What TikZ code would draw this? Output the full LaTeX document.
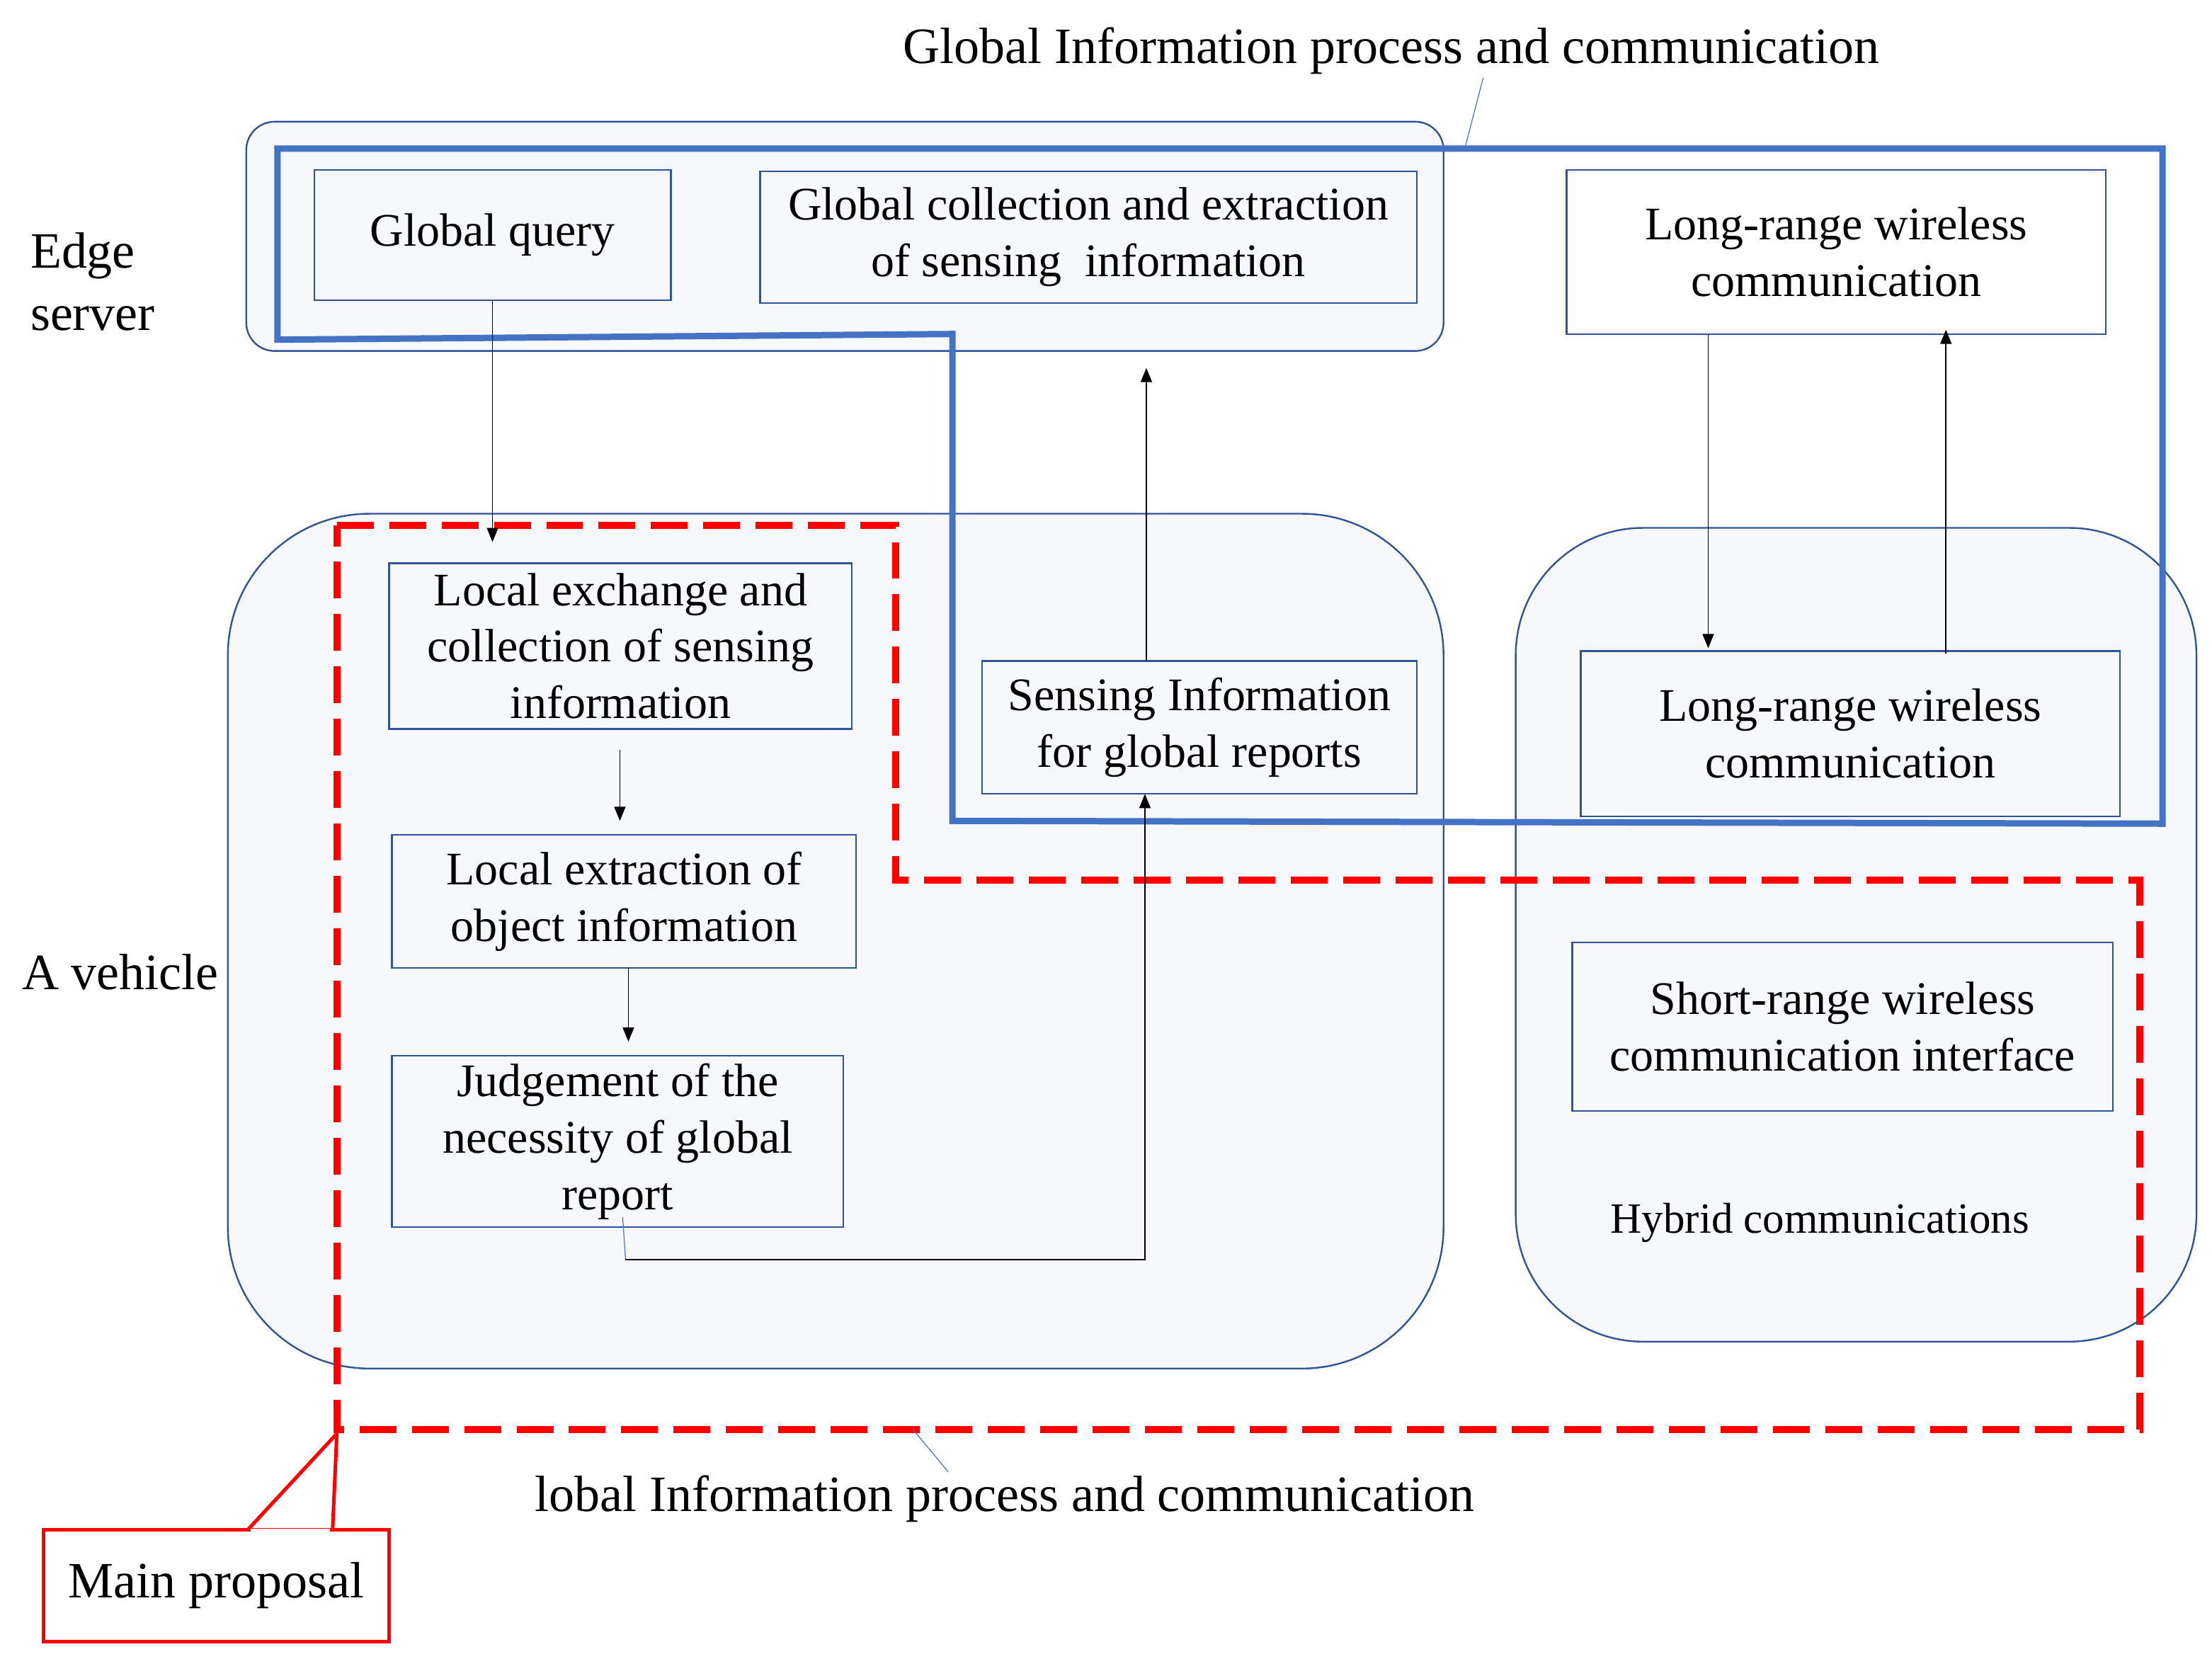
\documentclass[tikz,border=0pt]{standalone}
\usepackage{fontspec}
\setmainfont{Liberation Serif}
\usetikzlibrary{arrows.meta}
\definecolor{bd}{HTML}{2F5597}
\definecolor{fl}{HTML}{F6F8FC}
\definecolor{bl}{HTML}{4472C4}
\begin{document}
\begin{tikzpicture}[x=1pt,y=-1pt,
 box/.style={draw=bd,line width=1.2pt,fill=fl,align=center,font=\fontsize{33}{40}\selectfont,inner sep=0pt},
 grp/.style={draw=bd,line width=1.2pt,fill=fl},
 lbl/.style={font=\fontsize{36}{44}\selectfont,align=left},
 arr/.style={-{Triangle[length=10pt,width=8pt]},line width=0.8pt}]
\useasboundingbox (0,0) rectangle (1563,1172);
\draw[grp,rounded corners=20] (174,86) rectangle (1020,248);
\draw[grp,rounded corners=100] (161,363) rectangle (1020,967);
\draw[grp,rounded corners=90] (1071,373) rectangle (1552,948);
\node[box,minimum width=252,minimum height=92] (gq) at (348,166) {Global query};
\node[box,minimum width=464,minimum height=93] (gc) at (769,167.5) {Global collection and extraction\\of sensing~ information};
\node[box,fill=white,minimum width=381,minimum height=116] (lrt) at (1297.5,178) {Long-range wireless\\communication};
\node[box,minimum width=327,minimum height=117] (le) at (438.5,456.5) {Local exchange and\\collection of sensing\\information};
\node[box,minimum width=307,minimum height=94] (si) at (847.5,514) {Sensing Information\\for global reports};
\node[box,minimum width=381,minimum height=117] (lrb) at (1307.5,518.5) {Long-range wireless\\communication};
\node[box,minimum width=328,minimum height=94] (lx) at (441,637) {Local extraction of\\object information};
\node[box,minimum width=319,minimum height=121] (jd) at (436.5,806.5) {Judgement of the\\necessity of global\\report};
\node[box,minimum width=382,minimum height=119] (sr) at (1302,725.5) {Short-range wireless\\communication interface};
\node[font=\fontsize{30.5}{34}\selectfont] (hy) at (1286,864) {Hybrid communications};
\node[lbl,anchor=west] (es) at (18,199) {Edge\\server};
\node[lbl] (av) at (85,687) {A vehicle};
\node[lbl] (tt) at (983,36) {Global Information process and communication};
\node[lbl] (bt) at (710,1059) {lobal Information process and communication};
% blue region
\draw[bl,line width=4.5pt] (196,105) -- (1528,105) -- (1528,582) -- (673,580) -- (673,236) -- (196,240) -- cycle;
\draw[bl,line width=0.6pt] (1035,105) -- (1048,55);
% red region
\draw[red,line width=5pt,dash pattern=on 26pt off 11pt] (238,371) -- (633,371) -- (633,622) -- (1512,622) -- (1512,1010) -- (238,1010) -- cycle;
\draw[bl,line width=0.6pt] (645,1010) -- (670,1040);
% callout
\node[draw=red,line width=2.5pt,fill=white,minimum width=244,minimum height=79,font=\fontsize{36}{40}\selectfont] (mp) at (153,1120.5) {Main proposal};
\draw[red,line width=2.5pt] (175,1081) -- (238,1013) -- (235,1081);
\draw[white,line width=2pt] (177,1081) -- (233,1081);
% arrows
\draw[arr] (gq.south) -- (348,383);
\draw[arr] (438,530) -- (438,580);
\draw[arr] (444,684) -- (444,736);
\draw[arr] (810,467) -- (810,260);
\draw[arr] (1207,236) -- (1207,458);
\draw[arr] (1375,462) -- (1375,233);
\draw[bl,line width=0.6pt] (440,860) -- (442,890);
\draw[arr] (442,890) -- (809,890) -- (809,561);
\end{tikzpicture}
\end{document}
